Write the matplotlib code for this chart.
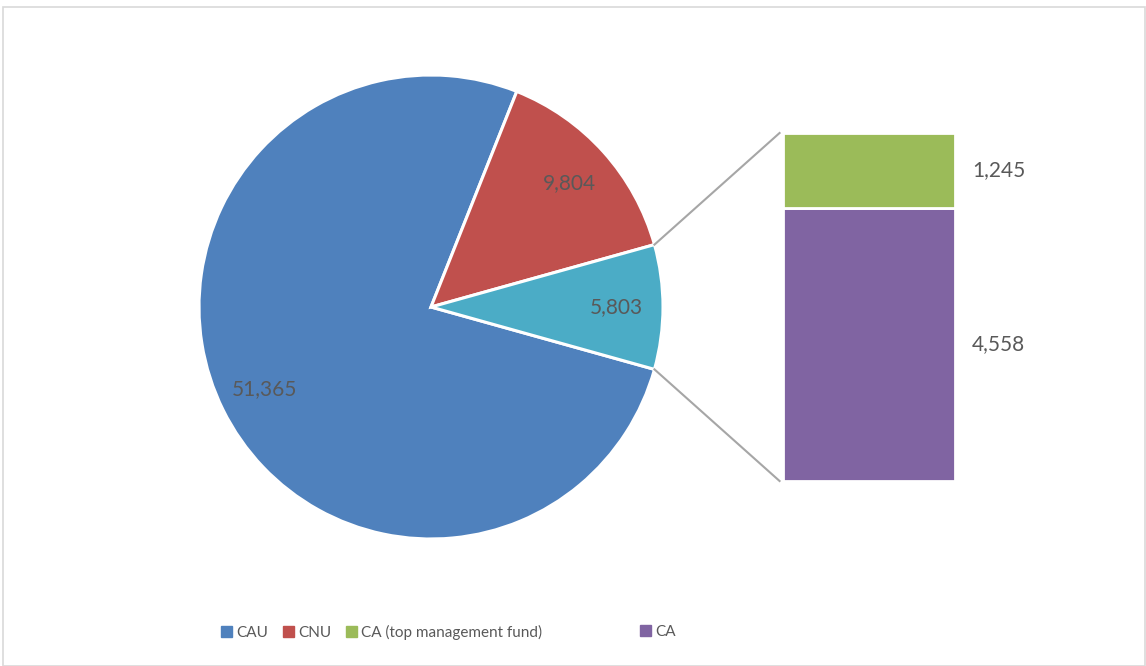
import numpy as np
import matplotlib.pyplot as plt
from matplotlib.patches import Patch, Rectangle
from matplotlib.lines import Line2D

plt.rcParams['font.family'] = ['Lato', 'DejaVu Sans']

pie_labels = ['CAU', 'CNU', 'Other']
pie_values = [51365, 9804, 5803]
bar_labels = ['CA', 'CA (top management fund)']
bar_values = [4558, 1245]

c_blue = '#4f81bd'
c_red = '#c0504d'
c_teal = '#4bacc6'
c_green = '#9bbb59'
c_purple = '#8064a2'
txt = '#595959'

W, H = 1146, 666
fig = plt.figure(figsize=(W / 100, H / 100), dpi=100)
ax = fig.add_axes([0, 0, 1, 1])

# outer frame
fig.patches.append(Rectangle((3 / W, 0.5 / H), (W - 4) / W, (H - 7) / H, transform=fig.transFigure,
                             fill=False, edgecolor='#d9d9d9', lw=1.2))

total = sum(pie_values)
half = 360 * pie_values[2] / total / 2
wedges, texts, autotexts = ax.pie(
    pie_values, colors=[c_blue, c_red, c_teal], center=(431, H - 307), radius=232,
    startangle=-half, counterclock=False, frame=True,
    wedgeprops=dict(edgecolor='white', linewidth=2.2),
    autopct=lambda p: f'{round(p * total / 100):,}', pctdistance=0.8,
    textprops=dict(color=txt, fontsize=15))
ax.set_xlim(0, W)
ax.set_ylim(0, H)
ax.set_aspect('equal')
ax.axis('off')

# bar of the "other" slice
bax = fig.add_axes([783 / W, (H - 481) / H, 172 / W, 348 / H])
bottoms = [0, bar_values[0]]
bcolors = [c_purple, c_green]
for v, b, c in zip(bar_values, bottoms, bcolors):
    bax.bar(0, v, bottom=b, width=1, color=c, edgecolor='white', linewidth=2.0)
    bax.text(0.6, b + v / 2, f'{v:,}', ha='left', va='center', color=txt, fontsize=15, clip_on=False)
bax.set_xlim(-0.5, 0.5)
bax.set_ylim(0, sum(bar_values))
bax.axis('off')

fig.canvas.draw()

# connector lines
w = wedges[2]
cx, cy = w.center
r = w.r
inv = fig.transFigure.inverted()
for ang, yb in [(w.theta2, sum(bar_values)), (w.theta1, 0)]:
    p = (cx + r * np.cos(np.radians(ang)), cy + r * np.sin(np.radians(ang)))
    a = inv.transform(ax.transData.transform(p))
    b = inv.transform(bax.transData.transform((-0.52, yb)))
    fig.add_artist(Line2D([a[0], b[0]], [a[1], b[1]], transform=fig.transFigure,
                          color='#a6a6a6', lw=1.5))

leg_kw = dict(frameon=False, loc='center left', fontsize=11, labelcolor=txt,
              handlelength=0.72, handleheight=0.72, handletextpad=0.25, columnspacing=1.0,
              borderaxespad=0, borderpad=0)
h1 = [Patch(color=c_blue), Patch(color=c_red), Patch(color=c_green)]
fig.legend(h1, ['CAU', 'CNU', bar_labels[1]], ncol=3, bbox_to_anchor=(221 / W, 1 - 632 / H), **leg_kw)
fig.legend([Patch(color=c_purple)], [bar_labels[0]], bbox_to_anchor=(640 / W, 1 - 632 / H), **leg_kw)

fig.savefig('out.png', dpi=100)
